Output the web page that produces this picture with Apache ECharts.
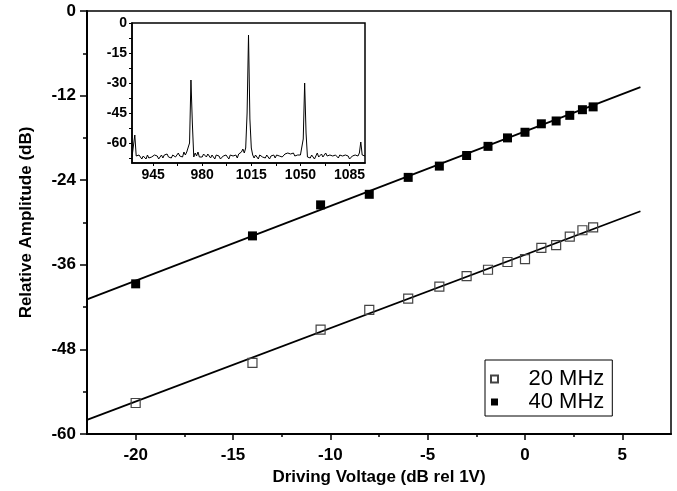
<!DOCTYPE html>
<html>
<head>
<meta charset="utf-8">
<script src="https://cdn.jsdelivr.net/npm/echarts@6/dist/echarts.min.js"></script>
<style>html,body{margin:0;padding:0;background:#fff}#c{width:677px;height:491px}</style>
</head>
<body>
<div id="c"></div>
<script>
// Main chart data
var voltage = [-20, -14, -10.5, -8, -6, -4.4, -3, -1.9, -0.9, 0, 0.84, 1.6, 2.3, 2.95, 3.5];
var amp20 = [-55.6, -49.9, -45.2, -42.4, -40.8, -39.1, -37.6, -36.7, -35.6, -35.2, -33.6, -33.2, -32.0, -31.1, -30.7];
var amp40 = [-38.7, -31.9, -27.5, -26.0, -23.6, -22.0, -20.5, -19.2, -18.0, -17.2, -16.0, -15.6, -14.8, -14.0, -13.6];
// Linear fit end points
var fitX = [-22.5, 5.93];
var fit20 = [-58.0, -28.4];
var fit40 = [-40.9, -10.8];
var xTicks = [-20, -15, -10, -5, 0, 5];
var xMinorTicks = [-17.5, -12.5, -7.5, -2.5, 2.5];
// Inset spectrum (frequency starts at 930, step 1)
var specStart = 930;
var spectrum = [
-67,-66,-56,-66.5,-67.5,-66,-67,-68,-66.5,-67,
-68,-66,-67.5,-66.5,-67,-68,-66,-67,-66.5,-68,
-67,-66,-67.5,-66,-67,-65.5,-67,-66,-67.5,-66,
-65.5,-67,-66,-65,-66.5,-65.5,-67,-64.5,-66,-64.5,
-65,-60,-28.5,-50,-67,-65,-66.5,-64.5,-67,-66,
-67,-65.5,-66,-67,-65.5,-66.5,-67.5,-66,-67,-68,
-66,-67,-66.5,-68,-67,-66.5,-67.5,-66,-67,-68,
-66,-67,-66.5,-67,-66,-67.5,-65.5,-66,-64.5,-63,
-65,-62.5,-45,-6,-48,-62.5,-66,-67.5,-66,-67,
-68,-66,-65,-67,-66.5,-67.5,-66,-67,-68,-66.5,
-67,-66,-67.5,-66,-67,-66.5,-65.5,-67,-66,-65.5,
-66.5,-65,-66,-65.5,-66,-65,-66.5,-65.5,-66,-65,
-66,-65.5,-58,-30,-55,-67,-66,-67.5,-66,-67,
-68,-66.5,-65,-67,-66,-65.5,-67,-66,-65,-66.5,
-67,-66,-65.5,-66.5,-67,-66,-66.5,-67.5,-66,-67,
-66.5,-67.5,-66,-67,-66.5,-68,-67,-66.5,-67.5,-66,
-67,-66.5,-65,-59.5,-66,-67,-66.5
];
var insetXTicks = [945, 980, 1015, 1050, 1085];
var insetXAllTicks = [945, 962.5, 980, 997.5, 1015, 1032.5, 1050, 1067.5, 1085];
var insetYTicks = [0, -15, -30, -45, -60];
var insetYAllTicks = [0, -7.5, -15, -22.5, -30, -37.5, -45, -52.5, -60, -67.5];

var FONT = 'Liberation Sans, Arial, sans-serif';
function zip(a, b) { return a.map(function (v, i) { return [v, b[i]]; }); }
var specData = spectrum.map(function (v, i) { return [specStart + i, v]; });
function plain(v) { return String(v); }

var chart = echarts.init(document.getElementById('c'), null, {renderer: 'canvas'});
chart.setOption({
  animation: false,
  backgroundColor: '#fff',
  grid: [
    {left: 87, right: 6, top: 11, bottom: 57, show: true, borderColor: '#000', borderWidth: 1.5, backgroundColor: 'transparent'},
    {left: 132, right: 312, top: 23, bottom: 328, show: true, borderColor: '#000', borderWidth: 1.5, backgroundColor: '#fff'}
  ],
  xAxis: [
    {gridIndex: 0, type: 'value', min: -22.5, max: 7.5, position: 'bottom',
     name: 'Driving Voltage (dB rel 1V)', nameLocation: 'middle', nameGap: 35,
     nameTextStyle: {fontFamily: FONT, fontWeight: 'bold', fontSize: 17, color: '#000'},
     axisLine: {show: true, onZero: false, lineStyle: {color: '#000', width: 2}},
     axisTick: {show: true, inside: false, length: 6, customValues: xTicks, lineStyle: {color: '#000', width: 1.5}},
     axisLabel: {customValues: xTicks, margin: 13, fontFamily: FONT, fontWeight: 'bold', fontSize: 17, color: '#000'},
     splitLine: {show: false}},
    {gridIndex: 0, type: 'value', min: -22.5, max: 7.5, position: 'bottom',
     axisLine: {show: false, onZero: false},
     axisTick: {show: true, inside: false, length: 3, customValues: xMinorTicks, lineStyle: {color: '#000', width: 1.5}},
     axisLabel: {show: false}, splitLine: {show: false}},
    {gridIndex: 1, type: 'value', min: 930, max: 1096, position: 'bottom',
     axisLine: {show: true, onZero: false, lineStyle: {color: '#000', width: 1.5}},
     axisTick: {show: true, inside: false, length: 3, customValues: insetXAllTicks, lineStyle: {color: '#000'}},
     axisLabel: {customValues: insetXTicks, formatter: plain, margin: 5, fontFamily: FONT, fontWeight: 'bold', fontSize: 14, color: '#000'},
     splitLine: {show: false}}
  ],
  yAxis: [
    {gridIndex: 0, type: 'value', min: -60, max: 0, interval: 12, position: 'left',
     name: 'Relative Amplitude (dB)', nameLocation: 'middle', nameGap: 52,
     nameTextStyle: {fontFamily: FONT, fontWeight: 'bold', fontSize: 17, color: '#000'},
     axisLine: {show: true, onZero: false, lineStyle: {color: '#000', width: 2}},
     axisTick: {show: true, inside: false, length: 7, lineStyle: {color: '#000', width: 1.5}},
     minorTick: {show: true, splitNumber: 2, length: 4, lineStyle: {color: '#000', width: 1.5}},
     axisLabel: {margin: 11, fontFamily: FONT, fontWeight: 'bold', fontSize: 17, color: '#000'},
     splitLine: {show: false}},
    {gridIndex: 1, type: 'value', min: -70, max: 0, position: 'left',
     axisLine: {show: true, onZero: false, lineStyle: {color: '#000', width: 1.5}},
     axisTick: {show: true, inside: false, length: 3, customValues: insetYAllTicks, lineStyle: {color: '#000'}},
     axisLabel: {customValues: insetYTicks, formatter: plain, margin: 5, fontFamily: FONT, fontWeight: 'bold', fontSize: 14, color: '#000'},
     splitLine: {show: false}}
  ],
  legend: {
    data: ['20 MHz', '40 MHz'], orient: 'vertical', left: 485, top: 360,
    backgroundColor: '#fff', borderColor: '#000', borderWidth: 1, padding: [8, 8, 3, 5],
    itemWidth: 58, itemHeight: 7, itemGap: 1, icon: 'path://M0,0H10V10H0Z',
    textStyle: {fontFamily: FONT, fontSize: 22, color: '#000', lineHeight: 22}
  },
  series: [
    {name: 'fit20', type: 'line', xAxisIndex: 0, yAxisIndex: 0, data: zip(fitX, fit20), showSymbol: false, symbol: 'none',
     lineStyle: {color: '#000', width: 1.8}, z: 2},
    {name: 'fit40', type: 'line', xAxisIndex: 0, yAxisIndex: 0, data: zip(fitX, fit40), showSymbol: false, symbol: 'none',
     lineStyle: {color: '#000', width: 1.8}, z: 2},
    {name: '20 MHz', type: 'scatter', xAxisIndex: 0, yAxisIndex: 0, data: zip(voltage, amp20), symbol: 'rect', symbolSize: 9,
     itemStyle: {color: 'rgba(255,255,255,0)', borderColor: '#444', borderWidth: 1.2, opacity: 1}, z: 3},
    {name: '40 MHz', type: 'scatter', xAxisIndex: 0, yAxisIndex: 0, data: zip(voltage, amp40), symbol: 'rect', symbolSize: 9,
     itemStyle: {color: '#000', opacity: 1}, z: 3},
    {name: 'spectrum', type: 'line', xAxisIndex: 2, yAxisIndex: 1, data: specData, showSymbol: false, symbol: 'none',
     lineStyle: {color: '#000', width: 1}, z: 5}
  ]
});
</script>
</body>
</html>
